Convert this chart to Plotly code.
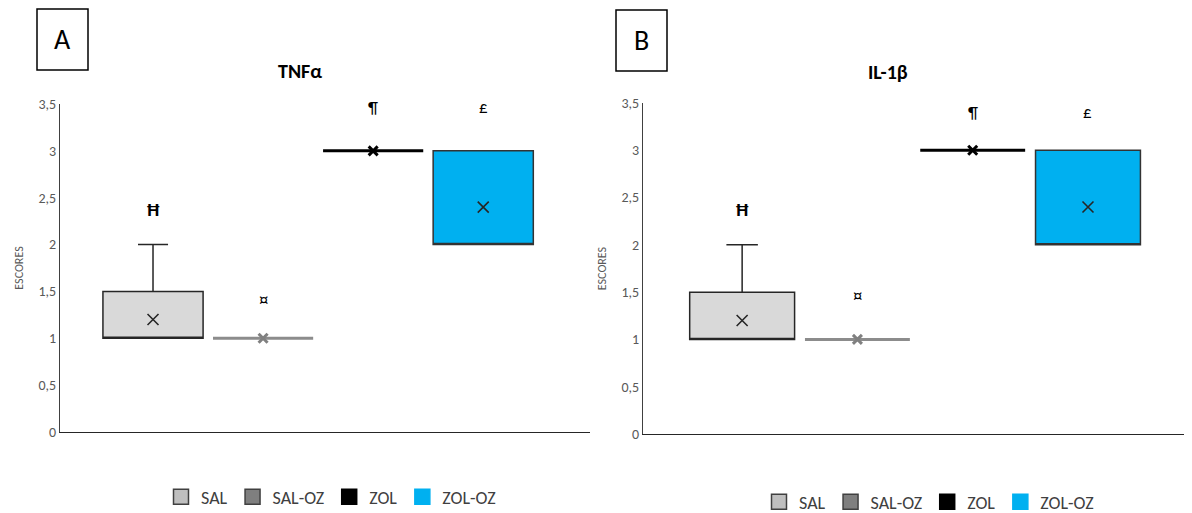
import plotly.graph_objects as go

categories = ["SAL", "SAL-OZ", "ZOL", "ZOL-OZ"]
positions = [0, 1, 2, 3]
tick_vals = [0, 0.5, 1, 1.5, 2, 2.5, 3, 3.5]
tick_text = ["0", "0,5", "1", "1,5", "2", "2,5", "3", "3,5"]

# TNFα
tnf_q1 = [1, 1, 3, 2]
tnf_median = [1, 1, 3, 2]
tnf_q3 = [1.5, 1, 3, 3]
tnf_low = [1, 1, 3, 2]
tnf_high = [2, 1, 3, 3]
tnf_mean = [1.2, 1, 3, 2.4]

# IL-1β
il_q1 = [1, 1, 3, 2]
il_median = [1, 1, 3, 2]
il_q3 = [1.5, 1, 3, 3]
il_low = [1, 1, 3, 2]
il_high = [2, 1, 3, 3]
il_mean = [1.2, 1, 3, 2.4]

signs = ["Ħ", "¤", "¶", "£"]

fill_colors = ["#d9d9d9", "#808080", "#000000", "#00b0f0"]
line_colors = ["#262626", "#8c8c8c", "#000000", "#333333"]
line_widths = [1.5, 3, 3, 1.5]
legend_colors = ["#bfbfbf", "#7f7f7f", "#000000", "#00b0f0"]
legend_lines = ["#404040", "#404040", "#000000", "#00b0f0"]
mean_sizes = [11, 9, 9, 11]
mean_widths = [1.6, 3, 3, 1.6]
mean_colors = ["#262626", "#808080", "#000000", "#262626"]
sign_sizes = [19, 19, 17, 17]

FONT = "Carlito, Open Sans, sans-serif"
OX, OY = 8, 8  # page offset of the figure
W, H = 1192 - OX, 513 - OY


def px(x):
    return (x - OX) / W


def py(y):
    return (H - (y - OY)) / H


fig = go.Figure()

panels = [
    dict(xa="x", ya="y", legend="legend", q1=tnf_q1, med=tnf_median, q3=tnf_q3,
         lo=tnf_low, hi=tnf_high, mean=tnf_mean, sign_dy=[0.37, 0.41, 0.46, 0.46]),
    dict(xa="x2", ya="y2", legend="legend2", q1=il_q1, med=il_median, q3=il_q3,
         lo=il_low, hi=il_high, mean=il_mean, sign_dy=[0.37, 0.46, 0.4, 0.4]),
]

for p in panels:
    for i, cat in enumerate(categories):
        fig.add_trace(go.Box(
            x=[positions[i]], q1=[p["q1"][i]], median=[p["med"][i]], q3=[p["q3"][i]],
            lowerfence=[p["lo"][i]], upperfence=[p["hi"][i]],
            width=0.91, whiskerwidth=0.3,
            fillcolor=fill_colors[i], line=dict(color=line_colors[i], width=line_widths[i]),
            xaxis=p["xa"], yaxis=p["ya"], showlegend=False, hoverinfo="skip",
            boxpoints=False,
        ))
        fig.add_trace(go.Scatter(
            x=[positions[i]], y=[p["mean"][i]], mode="markers",
            marker=dict(symbol="x-thin-open", size=mean_sizes[i], color=mean_colors[i],
                        line=dict(color=mean_colors[i], width=mean_widths[i])),
            xaxis=p["xa"], yaxis=p["ya"], showlegend=False, hoverinfo="skip",
        ))
        fig.add_annotation(
            x=positions[i], y=p["hi"][i] + p["sign_dy"][i], xref=p["xa"], yref=p["ya"],
            text=("<b>%s</b>" % signs[i]) if i == 0 else signs[i], showarrow=False,
            xanchor="center", yanchor="middle",
            font=dict(size=sign_sizes[i], color="#000000", family=FONT),
        )
    for i, cat in enumerate(categories):
        fig.add_trace(go.Scatter(
            x=[None], y=[None], mode="markers", name=cat,
            marker=dict(symbol="square", size=15, color=legend_colors[i],
                        line=dict(color=legend_lines[i], width=1.5)),
            xaxis=p["xa"], yaxis=p["ya"], legend=p["legend"],
        ))

axis_common = dict(showgrid=False, zeroline=False, showticklabels=False, ticks="",
                   showline=True, linecolor="#262626", linewidth=1.2, fixedrange=True)
yaxis_common = dict(range=[0, 3.5], tickvals=tick_vals, ticktext=tick_text, showgrid=False,
                    zeroline=False, showline=True, linecolor="#404040", linewidth=1,
                    ticks="", tickfont=dict(size=14, color="#595959", family=FONT),
                    automargin=False,
                    title=dict(text="ESCORES", font=dict(size=12, color="#595959", family=FONT),
                               standoff=12))

legend_common = dict(orientation="h", xanchor="center", yanchor="middle",
                     font=dict(size=18, color="#404040", family=FONT), itemwidth=30,
                     tracegroupgap=0, bgcolor="rgba(0,0,0,0)")

fig.update_layout(
    width=W, height=H, autosize=False,
    margin=dict(l=0, r=0, t=0, b=0, autoexpand=False),
    paper_bgcolor="white", plot_bgcolor="white",
    font=dict(family=FONT),
    boxmode="overlay",
    xaxis=dict(domain=[px(60), px(590)], range=[-0.845, 3.97], anchor="y", **axis_common),
    yaxis=dict(domain=[py(432), py(104)], anchor="x", **yaxis_common),
    xaxis2=dict(domain=[px(643), min(1.0, px(1190))], range=[-0.86, 3.885], anchor="y2",
                **axis_common),
    yaxis2=dict(domain=[py(434), py(103)], anchor="x2", **yaxis_common),
    legend=dict(x=px(331), y=py(497), **legend_common),
    legend2=dict(x=px(929), y=py(502), **legend_common),
)

# panel labels
for lab, (x0, x1, y0, y1) in zip(["A", "B"], [(37, 88, 8, 70), (616, 667, 10, 71)]):
    fig.add_shape(type="rect", xref="paper", yref="paper",
                  x0=px(x0), x1=px(x1), y0=py(y1), y1=min(py(y0), 0.998),
                  line=dict(color="#000000", width=1.5), fillcolor="white")
    fig.add_annotation(xref="paper", yref="paper", x=px((x0 + x1) / 2), y=py((y0 + y1) / 2),
                       xanchor="center", yanchor="middle",
                       text=lab, showarrow=False,
                       font=dict(size=28, color="#000000", family=FONT))

# titles
for t, (x, y) in zip(["<b>TNFα</b>", "<b>IL-1β</b>"], [(300, 71), (888, 72)]):
    fig.add_annotation(xref="paper", yref="paper", x=px(x), y=py(y), text=t, showarrow=False,
                       xanchor="center", yanchor="middle",
                       font=dict(size=20, color="#000000", family=FONT))

fig.write_html("out.html")
